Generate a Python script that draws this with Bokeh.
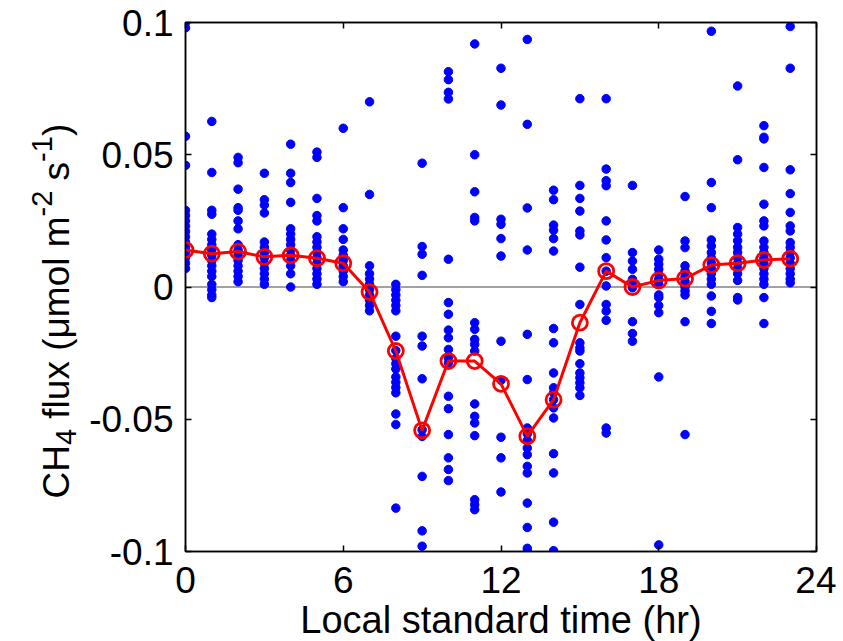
from bokeh.plotting import figure
from bokeh.layouts import row
from bokeh.models import LinearAxis, FixedTicker, Span, Range1d, ColumnDataSource
from bokeh.core.properties import value
from bokeh.embed import file_html
from bokeh.resources import INLINE

# ---------------- data ----------------
hours = list(range(24))

f00 = [0.100, 0.098, 0.057, 0.046, 0.029, 0.027, 0.025, 0.023, 0.021, 0.019, 0.017, 0.015, 0.013, 0.011, 0.009, 0.007]
f01 = [0.0626, 0.0433, 0.029, 0.0275, 0.020, 0.018, 0.016, 0.014, 0.012, 0.010, 0.008, 0.006, 0.004, 0.001, -0.001, -0.003, -0.004]
f02 = [0.049, 0.047, 0.037, 0.030, 0.029, 0.025, 0.022, 0.016, 0.014, 0.012, 0.010, 0.008, 0.006, 0.004, 0.002]
f03 = [0.043, 0.033, 0.031, 0.028, 0.017, 0.015, 0.013, 0.011, 0.009, 0.007, 0.005, 0.003, 0.001]
f04 = [0.054, 0.043, 0.0395, 0.032, 0.022, 0.020, 0.018, 0.016, 0.014, 0.012, 0.010, 0.008, 0.005, 0.000]
f05 = [0.051, 0.049, 0.0335, 0.027, 0.025, 0.019, 0.017, 0.015, 0.013, 0.011, 0.009, 0.007, 0.005, 0.003, 0.001]
f06 = [0.060, 0.030, 0.022, 0.018, 0.014, 0.012, 0.010, 0.008, 0.006, 0.004, 0.002]
f07 = [0.070, 0.035, 0.008, 0.005, 0.003, 0.001, -0.001, -0.003, -0.005, -0.007, -0.009]
f08 = [0.001, -0.001, -0.003, -0.005, -0.007, -0.009, -0.0186, -0.024, -0.027, -0.029, -0.031, -0.034, -0.036, -0.038, -0.040, -0.048, -0.052, -0.0836]
f09 = [0.0468, 0.0153, 0.0124, 0.0044, -0.0186, -0.0223, -0.0347, -0.054, -0.0565, -0.0716, -0.0922, -0.098]
f10 = [0.0814, 0.0784, 0.0736, 0.0711, 0.0105, -0.0059, -0.0103, -0.0163, -0.0192, -0.0236, -0.0268, -0.0287, -0.0413, -0.046, -0.0558, -0.0646, -0.069, -0.0732]
f11 = [0.0919, 0.05, 0.036, 0.0263, 0.025, -0.0135, -0.016, -0.0198, -0.0217, -0.0242, -0.0442, -0.0489, -0.0514, -0.0562, -0.0804, -0.0823, -0.0842]
f12 = [0.0827, 0.0688, 0.0256, 0.0237, 0.0183, 0.0117, -0.0205, -0.0353, -0.0568, -0.0646, -0.0775]
f13 = [0.0936, 0.0615, 0.0299, 0.014, -0.0179, -0.035, -0.0533, -0.0555, -0.058, -0.0609, -0.0634, -0.0678, -0.0703, -0.0817, -0.0909, -0.0988, -0.1, -0.1015]
f14 = [0.0366, 0.033, 0.0234, 0.0215, 0.0183, 0.0136, -0.0157, -0.0211, -0.0325, -0.0381, -0.04, -0.0426, -0.0457, -0.0495, -0.063, -0.0703, -0.0889, -0.0997]
f15 = [0.0712, 0.0384, 0.0335, 0.0287, 0.0212, 0.0197, 0.0075, -0.0066, -0.0211, -0.023, -0.0242, -0.029, -0.0325, -0.0343, -0.0362, -0.0381, -0.041]
f16 = [0.0712, 0.0446, 0.0402, 0.0383, 0.025, 0.0178, 0.0111, 0.006, 0.0004, -0.0066, -0.0091, -0.0126, -0.0533, -0.0552]
f17 = [0.0384, 0.013, 0.0098, 0.0067, 0.0029, 0.001, -0.0003, -0.0131, -0.0176, -0.0205]
f18 = [0.014, 0.0105, 0.0086, 0.0067, 0.0048, 0.0029, 0.001, -0.003, -0.004, -0.007, -0.0097, -0.034, -0.0975]
f19 = [0.0342, 0.0174, 0.0149, 0.008, 0.006, 0.004, 0.002, 0.0, -0.0015, -0.003, -0.0131, -0.0558]
f20 = [0.0967, 0.0395, 0.030, 0.0178, 0.0155, 0.013, 0.011, 0.009, 0.007, 0.005, 0.003, 0.001, -0.0034, -0.0092, -0.0138]
f21 = [0.076, 0.0481, 0.0225, 0.020, 0.0175, 0.015, 0.013, 0.011, 0.009, 0.007, 0.005, 0.0025, -0.004, -0.0049]
f22 = [0.061, 0.0566, 0.056, 0.0452, 0.0313, 0.025, 0.0231, 0.0174, 0.015, 0.013, 0.011, 0.009, 0.007, 0.005, 0.003, 0.001, -0.004, -0.0138]
f23 = [0.0985, 0.0827, 0.0443, 0.0353, 0.0282, 0.0231, 0.0212, 0.0168, 0.015, 0.013, 0.011, 0.009, 0.007, 0.005, 0.003, 0.0016]

mean_flux = [0.014, 0.0126, 0.0134, 0.0114, 0.012, 0.0109, 0.009, -0.0019, -0.0242, -0.0542,
             -0.028, -0.028, -0.0366, -0.0564, -0.0426, -0.0135, 0.006, 0.000, 0.0025, 0.0032,
             0.0083, 0.009, 0.0102, 0.0107]

x_ticks = [0, 6, 12, 18, 24]
x_tick_labels = ["0", "6", "12", "18", "24"]
y_ticks = [-0.1, -0.05, 0.0, 0.05, 0.1]
y_tick_labels = ["-0.1", "-0.05", "0", "0.05", "0.1"]
x_label = "Local standard time (hr)"
# y label pieces: (text, kind) kind: n=normal, sub=subscript, sup=superscript
y_label_parts = [("CH", "n"), ("4", "sub"), (" flux (μmol m", "n"), ("-2", "sup"), (" s", "n"), ("-1", "sup"), (")", "n")]

samples = [f00, f01, f02, f03, f04, f05, f06, f07, f08, f09, f10, f11,
           f12, f13, f14, f15, f16, f17, f18, f19, f20, f21, f22, f23]

xs, ys = [], []
for h, vals in zip(hours, samples):
    xs += [h] * len(vals)
    ys += vals

FONT = "Liberation Sans"
TICK_FS = 37
XLAB_FS = 38
YLAB_FS = 37
SUB_FS = 29

H = 639          # total height
LW = 80          # width of the y-label strip

# ---------------- main plot ----------------
p = figure(frame_width=631, frame_height=529,
           min_border_left=185 - LW, min_border_right=20, min_border_top=22, min_border_bottom=H - 22 - 529,
           x_range=Range1d(0, 24), y_range=Range1d(-0.1, 0.1),
           output_backend="svg", toolbar_location=None)
p.background_fill_color = "white"
p.border_fill_color = "white"
p.xgrid.visible = False
p.ygrid.visible = False
p.outline_line_color = "black"
p.outline_line_width = 1.5

zero = Span(location=0, dimension="width", line_color="#444444", line_width=1, level="underlay")
p.add_layout(zero)

p.scatter(xs, ys, size=8.5, color="blue", line_color="blue")
p.line(hours, mean_flux, line_color="red", line_width=3)
p.scatter(hours, mean_flux, marker="circle", size=15, fill_color=None, line_color="red", line_width=2.8)

def style_axis(ax, ticks, labels=None):
    ax.ticker = FixedTicker(ticks=ticks)
    ax.major_tick_in = 6
    ax.major_tick_out = 0
    ax.minor_tick_in = 0
    ax.minor_tick_out = 0
    ax.axis_line_color = "black"
    ax.axis_line_width = 1.5
    ax.major_tick_line_color = "black"
    ax.major_tick_line_width = 1.5
    if labels is not None:
        ax.major_label_overrides = {t: l for t, l in zip(ticks, labels)}
        ax.major_label_text_font = FONT
        ax.major_label_text_font_size = f"{TICK_FS}px"
        ax.major_label_text_color = "black"
    else:
        ax.major_label_text_font_size = "1px"
        ax.major_label_text_color = None
        ax.major_label_standoff = 0

xax = p.xaxis[0]
style_axis(xax, x_ticks, x_tick_labels)
xax.major_label_standoff = 15
xax.axis_label = x_label
xax.axis_label_text_font = FONT
xax.axis_label_text_font_size = f"{XLAB_FS}px"
xax.axis_label_text_font_style = "normal"
xax.axis_label_text_color = "black"
xax.axis_label_standoff = 3

yax = p.yaxis[0]
style_axis(yax, y_ticks, y_tick_labels)
yax.major_label_standoff = 12

top = LinearAxis()
style_axis(top, x_ticks)
p.add_layout(top, "above")
right = LinearAxis()
style_axis(right, y_ticks)
p.add_layout(right, "right")

# ---------------- y-label strip (rotated text with sub/superscripts) ----------------
ADV = {"C": 0.722, "H": 0.722, "4": 0.556, " ": 0.278, "f": 0.278, "l": 0.222, "u": 0.556,
       "x": 0.5, "(": 0.333, ")": 0.333, "μ": 0.576, "m": 0.833, "o": 0.556, "-": 0.333,
       "2": 0.556, "1": 0.556, "s": 0.5}
base_x = 56          # baseline position (px from strip left)
start_py = 476       # start of text (px from top)
lx, ly, lt, lsz = [], [], [], []
pos = start_py
for txt, kind in y_label_parts:
    size = YLAB_FS if kind == "n" else SUB_FS
    dx = {"n": 0, "sub": 9, "sup": -15}[kind]
    body = txt.lstrip(" ")
    pos -= (len(txt) - len(body)) * ADV[" "] * YLAB_FS   # leading gap (SVG drops leading spaces)
    lx.append(base_x + dx)
    ly.append(H - pos)
    lt.append(body)
    lsz.append(f"{size}px")
    pos -= sum(ADV.get(ch, 0.55) for ch in body) * size

lab_src = ColumnDataSource(dict(x=lx, y=ly, text=lt, size=lsz))
q = figure(frame_width=LW, frame_height=H, min_border=0,
           x_range=Range1d(0, LW), y_range=Range1d(0, H),
           x_axis_type=None, y_axis_type=None,
           output_backend="svg", toolbar_location=None)
q.xgrid.visible = False
q.ygrid.visible = False
q.outline_line_color = None
q.background_fill_color = "white"
q.border_fill_color = "white"
q.text(x="x", y="y", text="text", source=lab_src, angle=1.5707963267948966,
       text_align="left", text_baseline="alphabetic", text_font=value(FONT),
       text_font_size="size", text_color="black")

layout = row(q, p)
open("out.html", "w").write(file_html(layout, INLINE))
